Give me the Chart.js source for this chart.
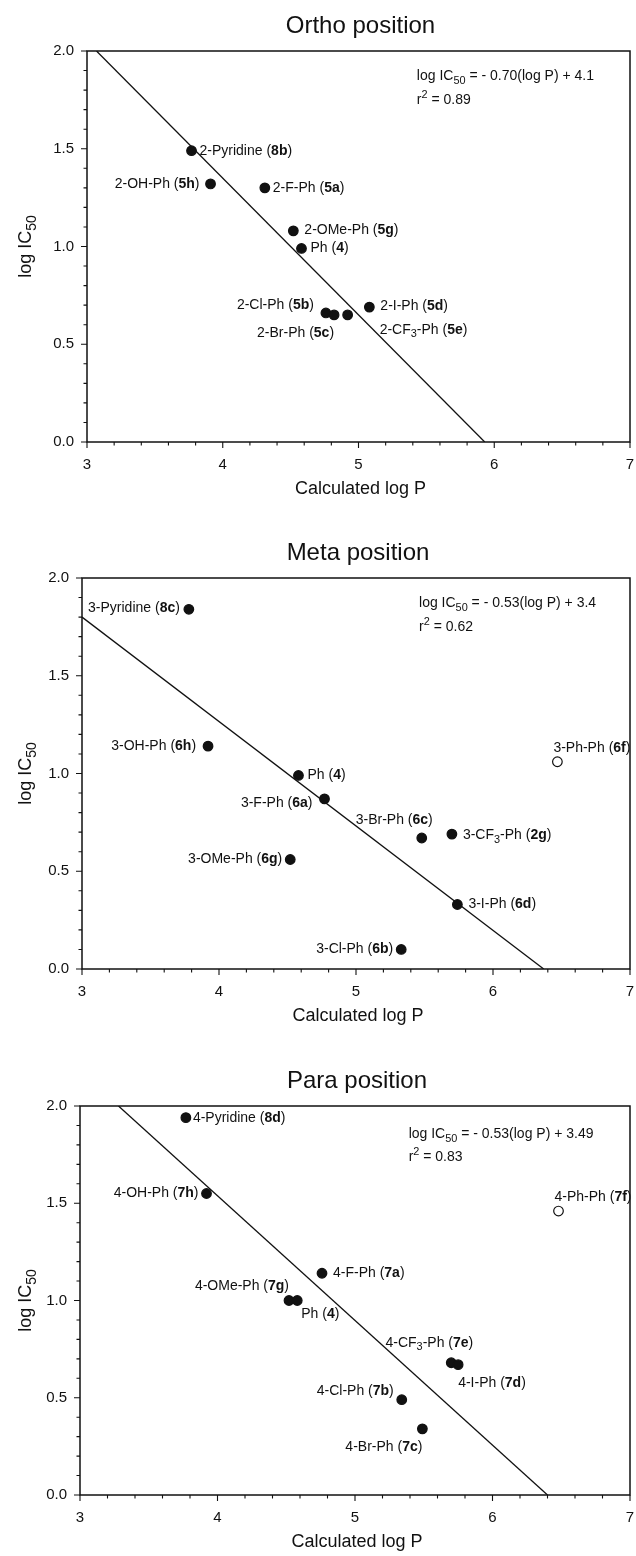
<!DOCTYPE html>
<html>
<head>
<meta charset="utf-8">
<script src="https://cdn.jsdelivr.net/npm/chart.js@4.4.1/dist/chart.umd.min.js"></script>
<style>
  html, body { margin: 0; padding: 0; background: #fff; }
  canvas { display: block; }
</style>
</head>
<body>
<canvas id="ortho" width="636" height="519"></canvas>
<canvas id="meta" width="636" height="519"></canvas>
<canvas id="para" width="636" height="518"></canvas>
<script>
// ── Data ─────────────────────────────────────────────────────────────────────
const orthoLabels = ["2-Pyridine (*8b*)", "2-OH-Ph (*5h*)", "2-F-Ph (*5a*)", "2-OMe-Ph (*5g*)", "Ph (*4*)",
                     "2-Cl-Ph (*5b*)", "2-Br-Ph (*5c*)", "2-CF_{3}-Ph (*5e*)", "2-I-Ph (*5d*)"];
const orthoX      = [3.77, 3.91, 4.31, 4.52, 4.58, 4.76, 4.82, 4.92, 5.08];
const orthoY      = [1.49, 1.32, 1.30, 1.08, 0.99, 0.66, 0.65, 0.65, 0.69];
const orthoFilled = [1, 1, 1, 1, 1, 1, 1, 1, 1];
const orthoFitX   = [3.07, 5.93];
const orthoFitY   = [2.0, 0.0];
const orthoEq     = ["log IC_{50} = - 0.70(log P) + 4.1", "r^{2} = 0.89"];

const metaLabels  = ["3-Pyridine (*8c*)", "3-OH-Ph (*6h*)", "Ph (*4*)", "3-F-Ph (*6a*)", "3-OMe-Ph (*6g*)",
                     "3-Br-Ph (*6c*)", "3-CF_{3}-Ph (*2g*)", "3-I-Ph (*6d*)", "3-Cl-Ph (*6b*)", "3-Ph-Ph (*6f*)"];
const metaX       = [3.78, 3.92, 4.58, 4.77, 4.52, 5.48, 5.70, 5.74, 5.33, 6.47];
const metaY       = [1.84, 1.14, 0.99, 0.87, 0.56, 0.67, 0.69, 0.33, 0.10, 1.06];
const metaFilled  = [1, 1, 1, 1, 1, 1, 1, 1, 1, 0];
const metaFitX    = [3.0, 6.37];
const metaFitY    = [1.80, 0.0];
const metaEq      = ["log IC_{50} = - 0.53(log P) + 3.4", "r^{2} = 0.62"];

const paraLabels  = ["4-Pyridine (*8d*)", "4-OH-Ph (*7h*)", "4-F-Ph (*7a*)", "4-OMe-Ph (*7g*)", "Ph (*4*)",
                     "4-CF_{3}-Ph (*7e*)", "4-I-Ph (*7d*)", "4-Cl-Ph (*7b*)", "4-Br-Ph (*7c*)", "4-Ph-Ph (*7f*)"];
const paraX       = [3.77, 3.92, 4.76, 4.52, 4.58, 5.70, 5.75, 5.34, 5.49, 6.48];
const paraY       = [1.94, 1.55, 1.14, 1.00, 1.00, 0.68, 0.67, 0.49, 0.34, 1.46];
const paraFilled  = [1, 1, 1, 1, 1, 1, 1, 1, 1, 0];
const paraFitX    = [3.28, 6.40];
const paraFitY    = [2.0, 0.0];
const paraEq      = ["log IC_{50} = - 0.53(log P) + 3.49", "r^{2} = 0.83"];

const xTicks = [3, 4, 5, 6, 7];
const yTicks = [0.0, 0.5, 1.0, 1.5, 2.0];

// ── Layout (pixels) ──────────────────────────────────────────────────────────
// label offsets from the marker: [dx, dy, align]
const orthoPlace = [[8, 0, "left"], [-11, 0, "right"], [8, 0, "left"], [11, -1, "left"], [9, 0, "left"],
                    [-12, -8, "right"], [0, 18, "right"], [32, 15, "left"], [11, -1, "left"]];
const metaPlace  = [[-9, -1, "right"], [-12, 0, "right"], [9, 0, "left"], [-12, 4, "right"], [-8, 0, "right"],
                    [11, -18, "right"], [11, 1, "left"], [11, 0, "left"], [-8, 0, "right"], [-4, -14, "left"]];
const paraPlace  = [[7, 0, "left"], [-8, 0, "right"], [11, 0, "left"], [0, -14, "right"], [4, 14, "left"],
                    [22, -20, "right"], [0, 18, "left"], [-8, -9, "right"], [0, 18, "right"], [-4, -14, "left"]];

const FONT = "'Liberation Sans', Arial, sans-serif";
const INK  = "#111";

// ── Rich text: *bold*, _{sub}, ^{sup} ────────────────────────────────────────
function parseRich(s) {
  const out = [];
  let bold = false, buf = "", i = 0;
  const push = (t, mode) => { if (t) out.push({ t, bold, mode }); };
  while (i < s.length) {
    const c = s[i];
    if (c === "*") { push(buf, 0); buf = ""; bold = !bold; i++; }
    else if ((c === "_" || c === "^") && s[i + 1] === "{") {
      push(buf, 0); buf = "";
      const end = s.indexOf("}", i);
      push(s.slice(i + 2, end), c === "_" ? 1 : -1);
      i = end + 1;
    } else { buf += c; i++; }
  }
  push(buf, 0);
  return out;
}

function segFont(seg, size) {
  const sz = seg.mode ? size * 0.78 : size;
  return (seg.bold ? "bold " : "") + sz + "px " + FONT;
}

function drawRich(ctx, str, x, y, align, size) {
  const segs = parseRich(str);
  ctx.save();
  ctx.textBaseline = "middle";
  ctx.textAlign = "left";
  ctx.fillStyle = INK;
  let w = 0;
  segs.forEach(sg => { ctx.font = segFont(sg, size); sg.w = ctx.measureText(sg.t).width; w += sg.w; });
  let cx = align === "right" ? x - w : align === "center" ? x - w / 2 : x;
  segs.forEach(sg => {
    ctx.font = segFont(sg, size);
    const dy = sg.mode === 1 ? size * 0.32 : sg.mode === -1 ? -size * 0.38 : 0;
    ctx.fillText(sg.t, cx, y + dy);
    cx += sg.w;
  });
  ctx.restore();
}

// ── Decoration plugin: frame, ticks, titles, equation, point labels ─────────
const decor = {
  id: "decor",
  afterDatasetsDraw(chart) {
    const o = chart.options.plugins.decor;
    const ctx = chart.ctx;
    const a = chart.chartArea;
    const sx = chart.scales.x, sy = chart.scales.y;

    ctx.save();
    ctx.strokeStyle = INK;
    ctx.lineWidth = 1.5;
    ctx.strokeRect(a.left, a.top, a.right - a.left, a.bottom - a.top);

    // tick marks (major and minor), pointing outwards
    ctx.lineWidth = 1.1;
    ctx.beginPath();
    for (let k = 0; k <= 20; k++) {
      const px = sx.getPixelForValue(3 + k * 0.2);
      const len = k % 5 === 0 ? 6 : 3.5;
      ctx.moveTo(px, a.bottom); ctx.lineTo(px, a.bottom + len);
    }
    for (let k = 0; k <= 20; k++) {
      const py = sy.getPixelForValue(k * 0.1);
      const len = k % 5 === 0 ? 6 : 3.5;
      ctx.moveTo(a.left, py); ctx.lineTo(a.left - len, py);
    }
    ctx.stroke();

    // chart title
    ctx.fillStyle = INK;
    ctx.textAlign = "center";
    ctx.textBaseline = "middle";
    ctx.font = "24px " + FONT;
    ctx.fillText(o.title, (a.left + a.right) / 2 + 2, a.top - 25);

    // axis titles
    ctx.font = "18px " + FONT;
    ctx.fillText("Calculated log P", (a.left + a.right) / 2 + 2, a.bottom + 47);
    ctx.save();
    ctx.translate(26, (a.top + a.bottom) / 2);
    ctx.rotate(-Math.PI / 2);
    drawRich(ctx, "log IC_{50}", 0, 0, "center", 18);
    ctx.restore();

    // regression equation
    drawRich(ctx, o.eq[0], sx.getPixelForValue(o.eqX), sy.getPixelForValue(o.eqY[0]), "left", 14);
    drawRich(ctx, o.eq[1], sx.getPixelForValue(o.eqX), sy.getPixelForValue(o.eqY[1]), "left", 14);

    // point labels
    const pts = chart.getDatasetMeta(1).data;
    o.labels.forEach((lab, i) => {
      const p = o.place[i];
      drawRich(ctx, lab, pts[i].x + p[0], pts[i].y + p[1], p[2], 14);
    });
    ctx.restore();
  },
};

// ── Chart builder ────────────────────────────────────────────────────────────
function makeChart(id, title, xs, ys, filled, fitX, fitY, labels, place, eq, eqX, eqY, box) {
  const canvas = document.getElementById(id);
  const H = canvas.height;
  return new Chart(canvas, {
    type: "scatter",
    data: {
      datasets: [
        {
          type: "line",
          data: fitX.map((x, i) => ({ x, y: fitY[i] })),
          borderColor: INK,
          borderWidth: 1.3,
          pointRadius: 0,
          fill: false,
          tension: 0,
        },
        {
          data: xs.map((x, i) => ({ x, y: ys[i] })),
          pointRadius: 4.8,
          pointBorderWidth: 1.2,
          pointBorderColor: INK,
          pointBackgroundColor: filled.map(f => (f ? INK : "#fff")),
        },
      ],
    },
    options: {
      responsive: false,
      animation: false,
      events: [],
      layout: { padding: { top: box.top, right: canvas.width - box.right, left: 0, bottom: 0 } },
      plugins: {
        legend: { display: false },
        tooltip: { enabled: false },
        decor: { title, labels, place, eq, eqX, eqY },
      },
      scales: {
        x: {
          type: "linear",
          min: xTicks[0], max: xTicks[xTicks.length - 1],
          afterBuildTicks: s => { s.ticks = xTicks.map(v => ({ value: v })); },
          ticks: { callback: v => String(v), padding: 14, color: INK, font: { size: 15, family: FONT } },
          grid: { display: false, drawTicks: false },
          border: { display: false },
          afterFit: s => { s.height = H - box.bottom; s.paddingLeft = 0; s.paddingRight = 0; },
        },
        y: {
          type: "linear",
          min: yTicks[0], max: yTicks[yTicks.length - 1],
          afterBuildTicks: s => { s.ticks = yTicks.map(v => ({ value: v })); },
          ticks: { callback: v => v.toFixed(1), padding: 13, color: INK, font: { size: 15, family: FONT } },
          grid: { display: false, drawTicks: false },
          border: { display: false },
          afterFit: s => { s.width = box.left; s.paddingTop = 0; s.paddingBottom = 0; },
        },
      },
    },
    plugins: [decor],
  });
}

makeChart("ortho", "Ortho position", orthoX, orthoY, orthoFilled, orthoFitX, orthoFitY,
          orthoLabels, orthoPlace, orthoEq, 5.43, [1.87, 1.75], { top: 51, bottom: 442, left: 87, right: 634 });
makeChart("meta", "Meta position", metaX, metaY, metaFilled, metaFitX, metaFitY,
          metaLabels, metaPlace, metaEq, 5.46, [1.87, 1.75], { top: 59, bottom: 450, left: 82, right: 631 });
makeChart("para", "Para position", paraX, paraY, paraFilled, paraFitX, paraFitY,
          paraLabels, paraPlace, paraEq, 5.39, [1.855, 1.735], { top: 68, bottom: 457, left: 80, right: 631 });
</script>
</body>
</html>
